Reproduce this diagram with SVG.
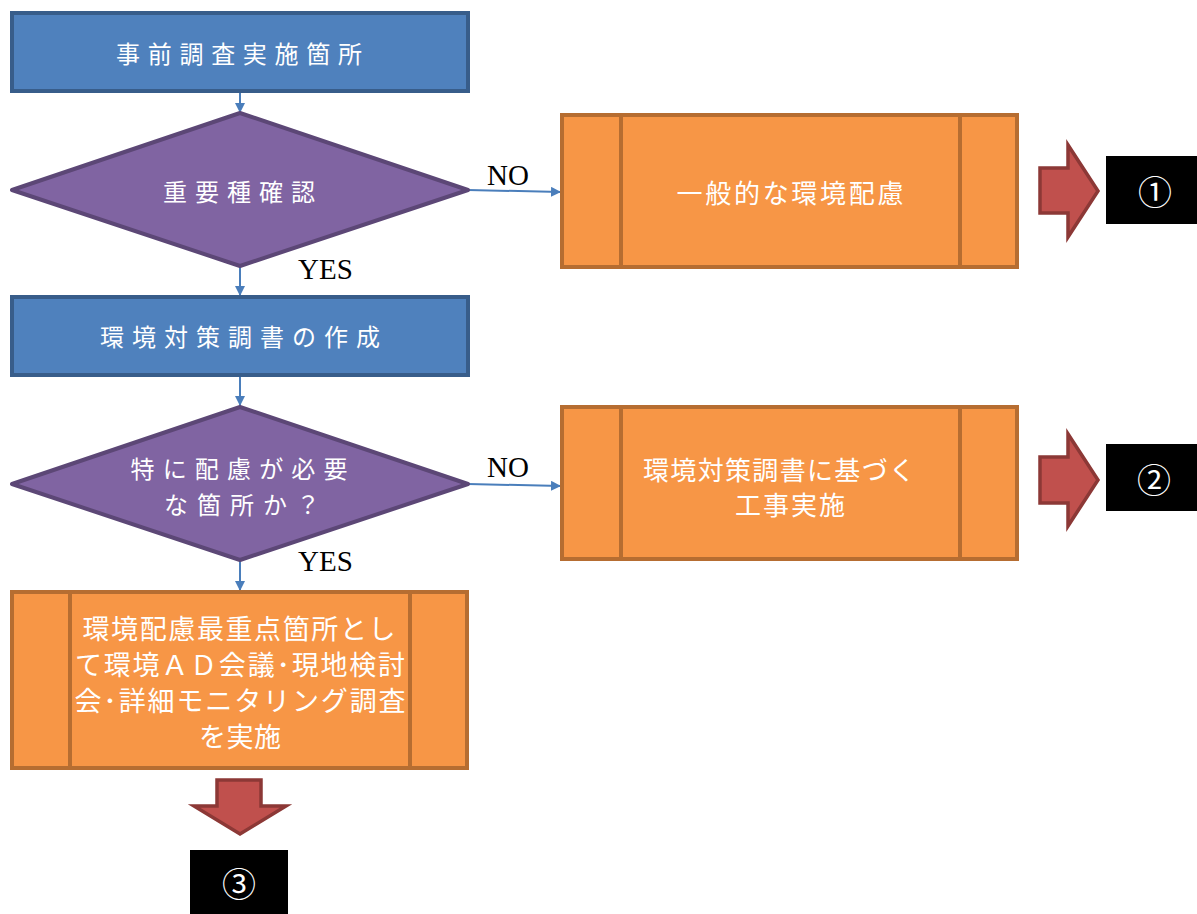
<svg xmlns="http://www.w3.org/2000/svg" width="1197" height="914" viewBox="0 0 1197 914">
<defs>
<marker id="ah" viewBox="0 0 10 10" refX="10" refY="5" markerWidth="10" markerHeight="10" markerUnits="userSpaceOnUse" orient="auto">
<path d="M0,0 L10,5 L0,10 z" fill="#4A7EBB"/>
</marker>
<style>
.blue{fill:#4F81BD;stroke:#385D8A;stroke-width:4;}
.dia{fill:#8064A2;stroke:#5C4776;stroke-width:4;stroke-linejoin:round;}
.org{fill:#F79646;stroke:#B66D31;stroke-width:4;}
.oline{stroke:#B66D31;stroke-width:4;}
.red{fill:#C0504D;stroke:#8C3836;stroke-width:3.5;}
.blk{fill:#000000;}
.conn{stroke:#4A7EBB;stroke-width:2;fill:none;marker-end:url(#ah);}
.wt{fill:#FFFFFF;font-family:"Noto Sans CJK JP","Noto Sans CJK SC",sans-serif;text-anchor:middle;dominant-baseline:central;}
.big{font-size:24px;}
.mid{font-size:26px;}
.num{fill:#FFFFFF;font-family:"Noto Sans CJK JP","Noto Sans CJK SC",sans-serif;font-size:34px;text-anchor:middle;dominant-baseline:central;}
.lbl{fill:#000000;font-family:"Liberation Serif",serif;font-size:29px;}
</style>
</defs>
<g id="connectors">
<line class="conn" x1="240" y1="91" x2="240" y2="113"/>
<line class="conn" x1="468" y1="190" x2="561" y2="192"/>
<line class="conn" x1="240" y1="266" x2="240" y2="296"/>
<line class="conn" x1="240" y1="375" x2="240" y2="406"/>
<line class="conn" x1="468" y1="484" x2="561" y2="486"/>
<line class="conn" x1="240" y1="560" x2="240" y2="591"/>
<text class="lbl" x="487" y="185">NO</text>
<text class="lbl" x="298" y="279">YES</text>
<text class="lbl" x="487" y="477">NO</text>
<text class="lbl" x="298" y="571">YES</text>
</g>
<g id="n1">
<rect class="blue" x="12" y="13" width="456" height="78"/>
<text class="wt big" x="239" y="52" textLength="246" lengthAdjust="spacing">事前調査実施箇所</text>
</g>
<g id="d1">
<polygon class="dia" points="240,113 468,190 240,266 12,190"/>
<text class="wt big" x="239" y="190" textLength="152" lengthAdjust="spacing">重要種確認</text>
</g>
<g id="o1">
<rect class="org" x="562" y="115" width="455" height="152"/>
<line class="oline" x1="621" y1="115" x2="621" y2="267"/>
<line class="oline" x1="960" y1="115" x2="960" y2="267"/>
<text class="wt mid" x="790" y="191" textLength="227" lengthAdjust="spacing">一般的な環境配慮</text>
</g>
<g id="r1">
<polygon class="red" points="1040,168 1068,168 1068,145 1098,191 1068,237 1068,213 1040,213"/>
</g>
<g id="b1">
<rect class="blk" x="1106" y="156" width="91" height="68"/>
<text class="num" x="1155" y="190">①</text>
</g>
<g id="n2">
<rect class="blue" x="12" y="297" width="456" height="78"/>
<text class="wt big" x="240" y="335" textLength="280" lengthAdjust="spacing">環境対策調書の作成</text>
</g>
<g id="d2">
<polygon class="dia" points="240,407 468,484 240,560 12,484"/>
<text class="wt big" x="239" y="467" textLength="217" lengthAdjust="spacing">特に配慮が必要</text>
<text class="wt big" x="242" y="503" textLength="156" lengthAdjust="spacing">な箇所か？</text>
</g>
<g id="o2">
<rect class="org" x="562" y="407" width="455" height="152"/>
<line class="oline" x1="621" y1="407" x2="621" y2="559"/>
<line class="oline" x1="960" y1="407" x2="960" y2="559"/>
<text class="wt mid" x="779" y="468" textLength="272" lengthAdjust="spacing">環境対策調書に基づく</text>
<text class="wt mid" x="790" y="503" textLength="110" lengthAdjust="spacing">工事実施</text>
</g>
<g id="r2">
<polygon class="red" points="1040,457 1068,457 1068,434 1098,480 1068,526 1068,503 1040,503"/>
</g>
<g id="b2">
<rect class="blk" x="1106" y="444" width="91" height="67"/>
<text class="num" x="1154" y="478">②</text>
</g>
<g id="o3">
<rect class="org" x="12" y="592" width="455" height="176"/>
<line class="oline" x1="70" y1="592" x2="70" y2="768"/>
<line class="oline" x1="410" y1="592" x2="410" y2="768"/>
<text class="wt" style="font-size:27px" x="239" y="627" textLength="313" lengthAdjust="spacing">環境配慮最重点箇所とし</text>
<text class="wt" style="font-size:27px" x="240" y="663" textLength="330" lengthAdjust="spacing">て環境ＡＤ会議･現地検討</text>
<text class="wt" style="font-size:27px" x="240" y="699" textLength="331" lengthAdjust="spacing">会･詳細モニタリング調査</text>
<text class="wt" style="font-size:27px" x="240" y="735" textLength="82" lengthAdjust="spacing">を実施</text>
</g>
<g id="r3">
<polygon class="red" points="217,780 261,780 261,806 286,806 240,834 194,806 217,806"/>
</g>
<g id="b3">
<rect class="blk" x="190" y="850" width="98" height="64"/>
<text class="num" x="239" y="882">③</text>
</g>
</svg>
